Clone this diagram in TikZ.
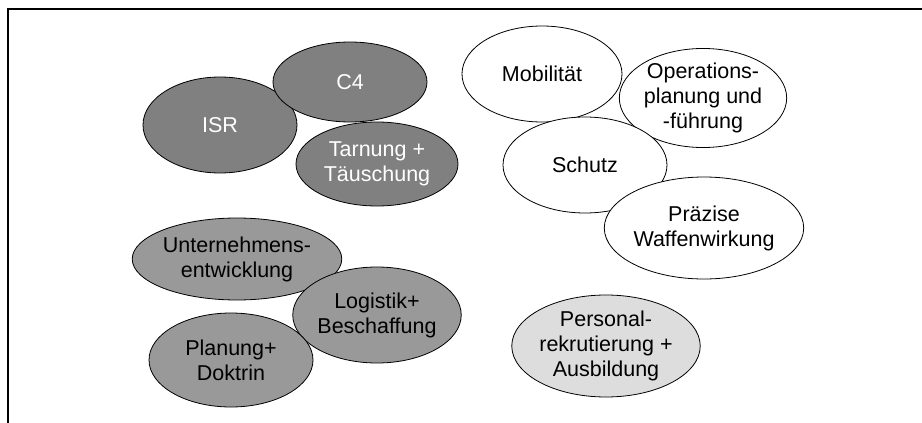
\documentclass[tikz,border=0pt]{standalone}
\usepackage{fontspec}
\setmainfont{Liberation Sans}
\usetikzlibrary{shapes.geometric}
\definecolor{darkfill}{HTML}{808080}
\definecolor{midfill}{HTML}{999999}
\definecolor{lightfill}{HTML}{DDDDDD}
\begin{document}
\begin{tikzpicture}[x=1pt,y=-1pt,
  blob/.style={ellipse,draw=black,line width=0.8pt,inner sep=0pt,align=center,
    font=\fontsize{21.5}{25}\selectfont},
  darkblob/.style={blob,fill=darkfill,text=white},
  midblob/.style={blob,fill=midfill},
  lightblob/.style={blob,fill=lightfill},
  whiteblob/.style={blob,fill=white}]
\useasboundingbox (0,0) rectangle (922,423);
\draw[line width=2pt] (8.3,423) -- (8.3,8.5) -- (922,8.5);
\node[darkblob,minimum width=154pt,minimum height=96pt] (isr) at (220,125) {ISR};
\node[darkblob,minimum width=154pt,minimum height=80pt] (c4) at (350,82) {C4};
\node[darkblob,minimum width=162pt,minimum height=84pt] (tarn) at (377,164) {Tarnung +\\Täuschung};
\node[whiteblob,minimum width=160pt,minimum height=96pt] (mob) at (542,74) {Mobilität};
\node[whiteblob,minimum width=164pt,minimum height=90pt] (op) at (703,98) {Operations-\\planung und\\-führung};
\node[whiteblob,minimum width=164pt,minimum height=96pt] (schutz) at (585,165) {Schutz};
\node[whiteblob,minimum width=164pt,minimum height=102pt] (praez) at (704,228) {Präzise\\Waffenwirkung};
\node[midblob,minimum width=188pt,minimum height=82pt] (unt) at (237,259) {Unternehmens-\\entwicklung};
\node[midblob,minimum width=162pt,minimum height=96pt] (log) at (377,315) {Logistik+\\Beschaffung};
\node[midblob,minimum width=164pt,minimum height=94pt] (plan) at (231,360) {Planung+\\Doktrin};
\node[lightblob,minimum width=168pt,minimum height=102pt] (pers) at (606,346) {Personal-\\rekrutierung +\\Ausbildung};
\end{tikzpicture}
\end{document}
